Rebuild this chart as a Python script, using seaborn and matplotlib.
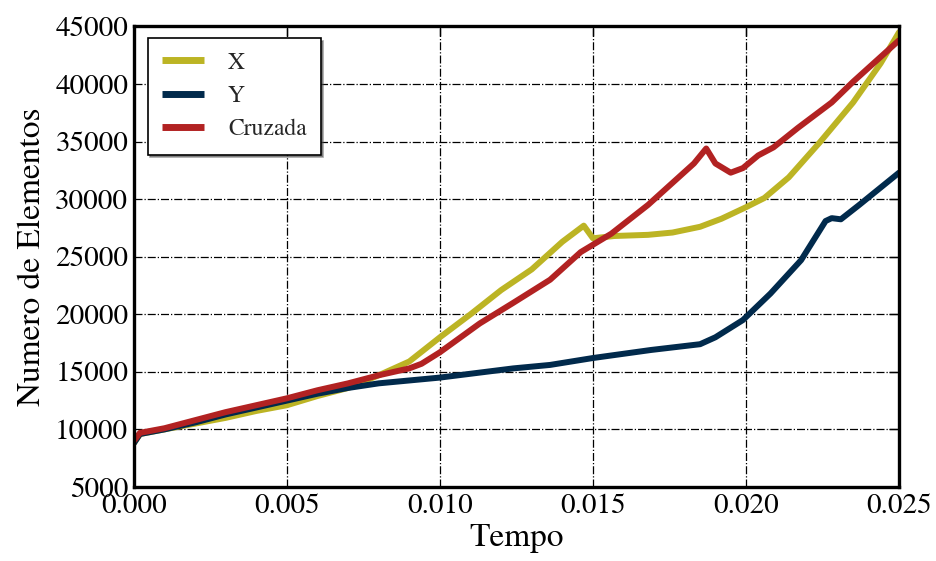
import matplotlib
matplotlib.use("Agg")
import matplotlib.pyplot as plt
import seaborn as sns
import pandas as pd

# Element count over time for each refinement direction
t_x = [0, 0.0002, 0.001, 0.002, 0.003, 0.004, 0.005, 0.006, 0.007, 0.008, 0.009,
       0.010, 0.011, 0.012, 0.013, 0.014, 0.0147, 0.0150, 0.0157, 0.0168, 0.0176,
       0.0185, 0.0192, 0.0200, 0.0206, 0.0214, 0.0224, 0.0235, 0.0244, 0.0250]
n_x = [8800, 9600, 10000, 10500, 11000, 11600, 12100, 12900, 13600, 14700, 15900,
       18000, 20000, 22100, 23900, 26300, 27700, 26600, 26800, 26900, 27100,
       27600, 28300, 29300, 30100, 31900, 34900, 38400, 41800, 44500]

t_y = [0, 0.0002, 0.001, 0.002, 0.003, 0.004, 0.005, 0.006, 0.007, 0.008, 0.010,
       0.0124, 0.0136, 0.0150, 0.0169, 0.0185, 0.0190, 0.0199, 0.0208, 0.0218,
       0.0226, 0.0228, 0.0231, 0.0237, 0.0250]
n_y = [8800, 9600, 10000, 10600, 11300, 11900, 12500, 13100, 13600, 14000, 14500,
       15300, 15600, 16200, 16900, 17400, 18000, 19500, 21800, 24700,
       28100, 28350, 28250, 29500, 32300]

t_c = [0, 0.0002, 0.001, 0.002, 0.003, 0.004, 0.005, 0.006, 0.007, 0.008, 0.009,
       0.0094, 0.010, 0.0113, 0.0124, 0.0136, 0.0146, 0.0156, 0.0168, 0.0178,
       0.0183, 0.0187, 0.0190, 0.0195, 0.0199, 0.0204, 0.0209, 0.0217, 0.0228,
       0.0235, 0.0250]
n_c = [9000, 9700, 10100, 10800, 11500, 12100, 12700, 13400, 14000, 14700, 15300,
       15700, 16700, 19200, 21000, 23000, 25400, 27000, 29500, 31900,
       33100, 34400, 33100, 32300, 32700, 33800, 34500, 36200, 38400,
       40200, 43800]

series_names = ["X", "Y", "Cruzada"]
series_colors = ["#bcb424", "#012a4c", "#b22222"]

x_ticks = [0.000, 0.005, 0.010, 0.015, 0.020, 0.025]
y_ticks = [5000, 10000, 15000, 20000, 25000, 30000, 35000, 40000, 45000]

frames = []
for name, t, n in zip(series_names, [t_x, t_y, t_c], [n_x, n_y, n_c]):
    frames.append(pd.DataFrame({"Tempo": t, "Elementos": n, "Serie": name}))
df = pd.concat(frames, ignore_index=True)

sns.set_theme(style="white")
plt.rcParams["font.family"] = ["STIXGeneral", "DejaVu Serif"]
plt.rcParams["mathtext.fontset"] = "stix"

fig = plt.figure(figsize=(9.36, 5.61), dpi=100)
ax = fig.add_axes([0.143, 0.132, 0.8175, 0.8208])

sns.lineplot(data=df, x="Tempo", y="Elementos", hue="Serie",
             hue_order=series_names, palette=series_colors,
             estimator=None, sort=False, linewidth=4.3, ax=ax)

ax.set_xlim(0, 0.025)
ax.set_ylim(5000, 45000)
ax.set_xticks(x_ticks)
ax.set_xticklabels([f"{v:.3f}" for v in x_ticks])
ax.set_yticks(y_ticks)
ax.set_yticklabels([str(v) for v in y_ticks])

ax.grid(True, color="black", linestyle="-.", linewidth=0.9)
for s in ax.spines.values():
    s.set_linewidth(2.4)
    s.set_color("black")
ax.tick_params(direction="in", length=7, width=1, top=True, right=True,
               labelsize=21, colors="black", pad=4)
ax.tick_params(axis="x", pad=5)

ax.set_xlabel("Tempo", fontsize=24, color="black", labelpad=3)
ax.set_ylabel("Numero de Elementos", fontsize=24, color="black", labelpad=6)

leg = ax.legend(loc="upper left", bbox_to_anchor=(0.018, 0.975), borderaxespad=0,
                fontsize=17, frameon=True, fancybox=False, shadow=True,
                handlelength=1.8, handletextpad=1.0, borderpad=0.6,
                labelspacing=0.5, edgecolor="black", framealpha=1)
leg.get_frame().set_linewidth(1.2)
for line in leg.get_lines():
    line.set_linewidth(5)
    line.set_solid_capstyle("butt")

fig.savefig("out.png", dpi=100)
